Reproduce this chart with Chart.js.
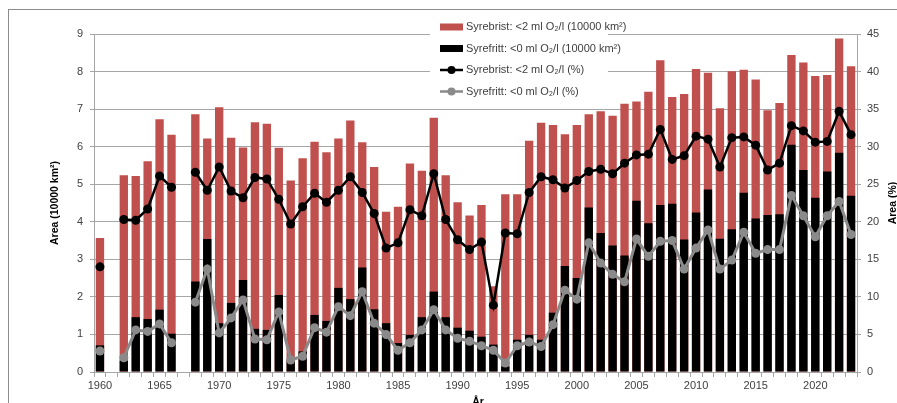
<!DOCTYPE html>
<html>
<head>
<meta charset="utf-8">
<script src="https://cdn.jsdelivr.net/npm/chart.js@4.4.1/dist/chart.umd.min.js"></script>
<style>
  html, body { margin: 0; padding: 0; background: #fff; overflow: hidden; }
  #ramme { position: absolute; left: 8px; top: 9px; width: 1000px; height: 500px; border: 1px solid #8c8c8c; }
  #graf { position: absolute; left: 0; top: 0; }
</style>
</head>
<body>
<div id="ramme"></div>
<canvas id="graf" width="897" height="403"></canvas>
<script>
// År (1961 og 1967 mangler)
const aar = [1960, 1961, 1962, 1963, 1964, 1965, 1966, 1967, 1968, 1969,
  1970, 1971, 1972, 1973, 1974, 1975, 1976, 1977, 1978, 1979,
  1980, 1981, 1982, 1983, 1984, 1985, 1986, 1987, 1988, 1989,
  1990, 1991, 1992, 1993, 1994, 1995, 1996, 1997, 1998, 1999,
  2000, 2001, 2002, 2003, 2004, 2005, 2006, 2007, 2008, 2009,
  2010, 2011, 2012, 2013, 2014, 2015, 2016, 2017, 2018, 2019,
  2020, 2021, 2022, 2023];

// Areal (10000 km²)
const syrebristAreal = [3.57, null, 5.24, 5.22, 5.61, 6.73, 6.32, null, 6.86, 6.22,
  7.05, 6.24, 5.98, 6.65, 6.61, 5.97, 5.1, 5.69, 6.13, 5.85,
  6.22, 6.7, 6.12, 5.46, 4.27, 4.4, 5.55, 5.36, 6.77, 5.24,
  4.52, 4.17, 4.45, 2.28, 4.73, 4.73, 6.16, 6.64, 6.58, 6.33,
  6.58, 6.86, 6.94, 6.82, 7.14, 7.2, 7.46, 8.3, 7.32, 7.4,
  8.07, 7.97, 7.02, 8.01, 8.05, 7.79, 6.97, 7.16, 8.44, 8.24,
  7.88, 7.91, 8.88, 8.14];

const syrefrittAreal = [0.71, null, 0.3, 1.46, 1.41, 1.66, 1.02, null, 2.41, 3.54,
  1.3, 1.84, 2.45, 1.15, 1.12, 2.05, 0.3, 0.55, 1.52, 1.36,
  2.24, 1.94, 2.78, 1.67, 1.3, 0.77, 0.99, 1.46, 2.14, 1.46,
  1.18, 1.1, 0.94, 0.73, 0.15, 0.86, 0.99, 0.86, 1.58, 2.82,
  2.5, 4.38, 3.7, 3.37, 3.1, 4.56, 3.96, 4.45, 4.48, 3.53,
  4.25, 4.86, 3.55, 3.8, 4.77, 4.09, 4.18, 4.2, 6.05, 5.38,
  4.64, 5.34, 5.84, 4.69];

// Andel (%)
const syrebristProsent = [14, null, 20.3, 20.2, 21.7, 26.1, 24.6, null, 26.6, 24.2,
  27.3, 24.1, 23.2, 25.9, 25.7, 23, 19.7, 22, 23.8, 22.6,
  24.2, 26, 23.9, 21.1, 16.5, 17.2, 21.6, 20.8, 26.4, 20.3,
  17.6, 16.3, 17.3, 8.9, 18.5, 18.4, 23.9, 26, 25.6, 24.5,
  25.5, 26.7, 27, 26.4, 27.8, 28.9, 29, 32.3, 28.3, 28.8,
  31.4, 31, 27.3, 31.2, 31.3, 30.2, 26.9, 27.8, 32.8, 32.1,
  30.6, 30.7, 34.7, 31.6];

const syrefrittProsent = [2.8, null, 1.9, 5.6, 5.4, 6.4, 3.9, null, 9.3, 13.7,
  5.2, 7.2, 9.6, 4.4, 4.3, 8, 1.6, 2.1, 5.9, 5.3,
  8.7, 7.5, 10.7, 6.5, 5, 2.9, 3.9, 5.6, 8.3, 5.6,
  4.5, 4.1, 3.5, 2.9, 1.2, 3.5, 4, 3.4, 6.3, 10.9,
  9.7, 17.2, 14.5, 13, 12, 17.7, 15.4, 17.4, 17.5, 13.7,
  16.5, 18.9, 13.7, 14.9, 18.6, 15.8, 16.3, 16.3, 23.5, 20.8,
  18, 20.8, 22.7, 18.3];

const fontFamilie = "'Liberation Sans', Arial, sans-serif";
const tekstFarge = "#404040";
const rod = "#c0504d";
const gra = "#8a8a8a";

// Tegner aksetitler og forklaring
const tilleggPlugin = {
  id: "tillegg",
  afterDraw(chart) {
    const ctx = chart.ctx;
    const area = chart.chartArea;
    const midtY = (area.top + area.bottom) / 2;
    ctx.save();
    ctx.fillStyle = "#000";
    ctx.font = "bold 10.5px " + fontFamilie;
    ctx.textAlign = "center";
    ctx.textBaseline = "middle";
    [[55, "Area (10000 km²)"], [893, "Area (%)"]].forEach(([x, t]) => {
      ctx.save();
      ctx.translate(x, midtY);
      ctx.rotate(-Math.PI / 2);
      ctx.fillText(t, 0, 0);
      ctx.restore();
    });
    ctx.textBaseline = "top";
    ctx.fillText("År", 478, 397);

    // forklaring
    ctx.fillStyle = "#fff";
    ctx.fillRect(430, 14, 178, 90);
    const rader = [
      { t: "Syrebrist: <2 ml O₂/l (10000 km²)", type: "bar", farge: rod },
      { t: "Syrefritt: <0 ml O₂/l (10000 km²)", type: "bar", farge: "#000" },
      { t: "Syrebrist: <2 ml O₂/l (%)", type: "line", farge: "#000" },
      { t: "Syrefritt: <0 ml O₂/l (%)", type: "line", farge: gra }
    ];
    ctx.font = "11px " + fontFamilie;
    ctx.textAlign = "left";
    ctx.textBaseline = "middle";
    rader.forEach((r, i) => {
      const y = 27 + i * 21.5;
      if (r.type === "bar") {
        ctx.fillStyle = r.farge;
        ctx.fillRect(440, y - 3.5, 23, 7);
      } else {
        ctx.strokeStyle = r.farge;
        ctx.lineWidth = 2.5;
        ctx.beginPath();
        ctx.moveTo(440, y);
        ctx.lineTo(463, y);
        ctx.stroke();
        ctx.fillStyle = r.farge;
        ctx.beginPath();
        ctx.arc(451.5, y, 4, 0, Math.PI * 2);
        ctx.fill();
      }
      ctx.fillStyle = tekstFarge;
      ctx.fillText(r.t, 466, y);
    });
    ctx.restore();
  }
};

new Chart(document.getElementById("graf"), {
  data: {
    labels: aar,
    datasets: [
      {
        type: "line", label: "Syrebrist: <2 ml O₂/l (%)", data: syrebristProsent, yAxisID: "y2",
        borderColor: "#000", backgroundColor: "#000", borderWidth: 2.5,
        pointRadius: 4.5, pointBorderWidth: 0, spanGaps: false, tension: 0, order: 0
      },
      {
        type: "line", label: "Syrefritt: <0 ml O₂/l (%)", data: syrefrittProsent, yAxisID: "y2",
        borderColor: gra, backgroundColor: gra, borderWidth: 3,
        pointRadius: 4.5, pointBorderWidth: 0, spanGaps: false, tension: 0, order: 1
      },
      {
        type: "bar", label: "Syrefritt: <0 ml O₂/l (10000 km²)", data: syrefrittAreal, yAxisID: "y",
        backgroundColor: "#000", barPercentage: 0.7, categoryPercentage: 1, order: 2
      },
      {
        type: "bar", label: "Syrebrist: <2 ml O₂/l (10000 km²)", data: syrebristAreal, yAxisID: "y",
        backgroundColor: rod, barPercentage: 0.7, categoryPercentage: 1, order: 3
      }
    ]
  },
  options: {
    responsive: false,
    animation: false,
    layout: { padding: { top: 34, left: 0, right: 0, bottom: 0 } },
    plugins: { legend: { display: false }, tooltip: { enabled: false } },
    scales: {
      x: {
        stacked: true,
        offset: true,
        afterFit(scale) { scale.height = 31; },
        grid: { display: true, drawOnChartArea: false, drawTicks: true, tickLength: 5, offset: true, color: "#a6a6a6" },
        border: { color: "#a6a6a6" },
        ticks: {
          autoSkip: false, maxRotation: 0, padding: 2, color: tekstFarge,
          font: { family: fontFamilie, size: 11 },
          callback(v, i) { return aar[i] % 5 === 0 ? String(aar[i]) : ""; }
        }
      },
      y: {
        position: "left",
        stacked: false,
        min: 0, max: 9,
        afterFit(scale) { scale.width = 94; },
        grid: { color: "#a6a6a6", tickLength: 4 },
        border: { color: "#a6a6a6" },
        ticks: { stepSize: 1, padding: 7, color: tekstFarge, font: { family: fontFamilie, size: 11 } }
      },
      y2: {
        position: "right",
        min: 0, max: 45,
        afterFit(scale) { scale.width = 40; },
        grid: { drawOnChartArea: false, color: "#a6a6a6", tickLength: 4 },
        border: { color: "#a6a6a6" },
        ticks: { stepSize: 5, padding: 6, color: tekstFarge, font: { family: fontFamilie, size: 11 } }
      }
    }
  },
  plugins: [tilleggPlugin]
});
</script>
</body>
</html>
